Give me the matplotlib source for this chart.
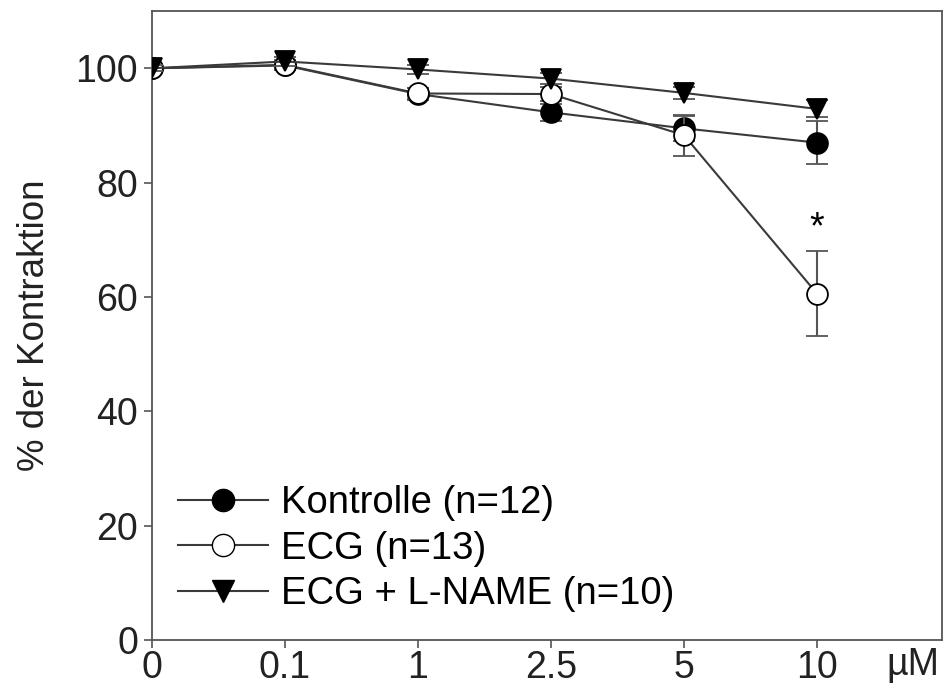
import matplotlib
matplotlib.use("Agg")
import matplotlib.pyplot as plt
from matplotlib.lines import Line2D

plt.rcParams['font.family'] = ['Liberation Sans', 'DejaVu Sans']

# concentrations (uM) shown as evenly spaced categories
doses = ["0", "0.1", "1", "2.5", "5", "10"]

kontrolle = [100, 100.5, 95.5, 92.3, 89.5, 87.0]
kontrolle_err = [0.5, 0.8, 1.0, 1.5, 2.2, 3.7]

ecg = [100, 100.6, 95.6, 95.5, 88.3, 60.6]
ecg_err = [0.5, 0.8, 1.0, 1.2, 3.6, 7.4]

lname = [100, 101.2, 99.8, 98.2, 95.7, 92.9]
lname_err = [0.5, 0.8, 0.8, 1.0, 1.0, 1.5]

labels = ["Kontrolle (n=12)", "ECG (n=13)", "ECG + L-NAME (n=10)"]

x = list(range(len(doses)))

fig = plt.figure(figsize=(9.46, 6.88), dpi=100)
ax = fig.add_axes([0.1607, 0.0698, 0.835, 0.914])

line_col = "#3a3a3a"
common = dict(color=line_col, lw=1.5, ms=15, mec="black", mew=1.3,
              elinewidth=1.5, ecolor="#555555", capsize=8, capthick=1.5)

ax.errorbar(x, kontrolle, yerr=kontrolle_err, marker="o", mfc="black",
            zorder=3, **common)
ax.errorbar(x, ecg, yerr=ecg_err, marker="o", mfc="white",
            zorder=4, **common)
ax.errorbar(x, lname, yerr=lname_err, marker="v", mfc="black",
            zorder=5, **common)

ax.text(5, 72, "*", ha="center", va="center", fontsize=27)

ax.set_xlim(0, 5.94)
ax.set_ylim(0, 110)
ax.set_xticks(x)
ax.set_xticklabels(doses)
ax.set_yticks([0, 20, 40, 60, 80, 100])
ax.tick_params(labelsize=27, length=6, width=1.2, color="#555555")
ax.tick_params(axis="x", pad=1)
ax.tick_params(axis="y", pad=4)
for s in ax.spines.values():
    s.set_color("#555555")
    s.set_linewidth(1.3)
for lab in ax.get_xticklabels() + ax.get_yticklabels():
    lab.set_color("#222222")

ax.set_ylabel("% der Kontraktion", fontsize=26.5, color="#222222", labelpad=17)
ax.text(0.963, -0.04, "µM", transform=ax.transAxes, ha="center", va="center",
        fontsize=27, color="#222222")

handles = [
    Line2D([], [], color=line_col, lw=1.5, marker="o", ms=16, mfc="black", mec="black"),
    Line2D([], [], color=line_col, lw=1.5, marker="o", ms=16, mfc="white", mec="black"),
    Line2D([], [], color=line_col, lw=1.5, marker="v", ms=16, mfc="black", mec="black"),
]
ax.legend(handles, labels, loc="lower left", frameon=False, fontsize=27.5,
          handlelength=2.35, handletextpad=0.35, labelspacing=0.25,
          borderaxespad=0.0, bbox_to_anchor=(0.014, 0.02))

fig.savefig("out.png", dpi=100)
